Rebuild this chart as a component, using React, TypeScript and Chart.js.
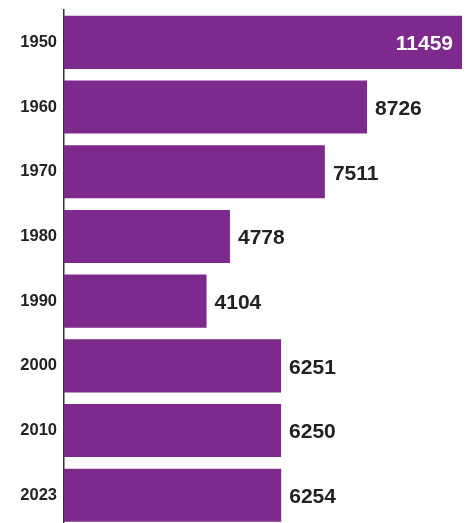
import React, { useEffect, useRef } from "react";
import { Chart, registerables } from "chart.js";

Chart.register(...registerables);

const years = ["1950", "1960", "1970", "1980", "1990", "2000", "2010", "2023"];
const values = [11459, 8726, 7511, 4778, 4104, 6251, 6250, 6254];

const BAR_COLOR = "#7E2A8C";
const FONT = '"Liberation Sans", Arial, sans-serif';

const valueLabels = {
  id: "valueLabels",
  afterDatasetsDraw(chart: any) {
    const ctx = chart.ctx;
    const meta = chart.getDatasetMeta(0);
    const max = Math.max(...values);
    ctx.save();
    ctx.font = `bold 21px ${FONT}`;
    ctx.textBaseline = "middle";
    meta.data.forEach((bar: any, i: number) => {
      const v = values[i];
      const text = String(v);
      if (v === max) {
        ctx.fillStyle = "#ffffff";
        ctx.textAlign = "right";
        ctx.fillText(text, bar.x - 9, bar.y + 2);
      } else {
        ctx.fillStyle = "#222222";
        ctx.textAlign = "left";
        ctx.fillText(text, bar.x + 8, bar.y + 2);
      }
    });
    ctx.restore();
  },
};

export default function App() {
  const ref = useRef<HTMLCanvasElement>(null);
  useEffect(() => {
    if (!ref.current) return;
    const chart = new Chart(ref.current, {
      type: "bar",
      data: {
        labels: years,
        datasets: [
          {
            data: values,
            backgroundColor: BAR_COLOR,
            borderWidth: 0,
            categoryPercentage: 1,
            barPercentage: 0.82,
          },
        ],
      },
      options: {
        indexAxis: "y",
        animation: false,
        responsive: false,
        maintainAspectRatio: false,
        layout: { padding: { top: 10, right: 3, bottom: 2.4, left: 0 } },
        plugins: {
          legend: { display: false },
          tooltip: { enabled: false },
        },
        scales: {
          x: { display: false, min: 0, max: 11459 },
          y: {
            afterFit(scale: any) {
              scale.width = 64;
              scale.paddingTop = 0;
              scale.paddingBottom = 0;
            },
            grid: { display: false, drawTicks: false },
            border: { display: true, color: "#333333", width: 1.5 },
            ticks: {
              padding: 7,
              color: "#222222",
              font: { family: FONT, size: 16.5, weight: "bold" },
            },
          },
        },
      },
      plugins: [valueLabels],
    });
    return () => chart.destroy();
  }, []);
  return (
    <div style={{ position: "fixed", left: 0, top: 0, width: 465, height: 523, overflow: "hidden", background: "#fff" }}>
      <canvas ref={ref} width={465} height={530} style={{ display: "block" }} />
    </div>
  );
}
